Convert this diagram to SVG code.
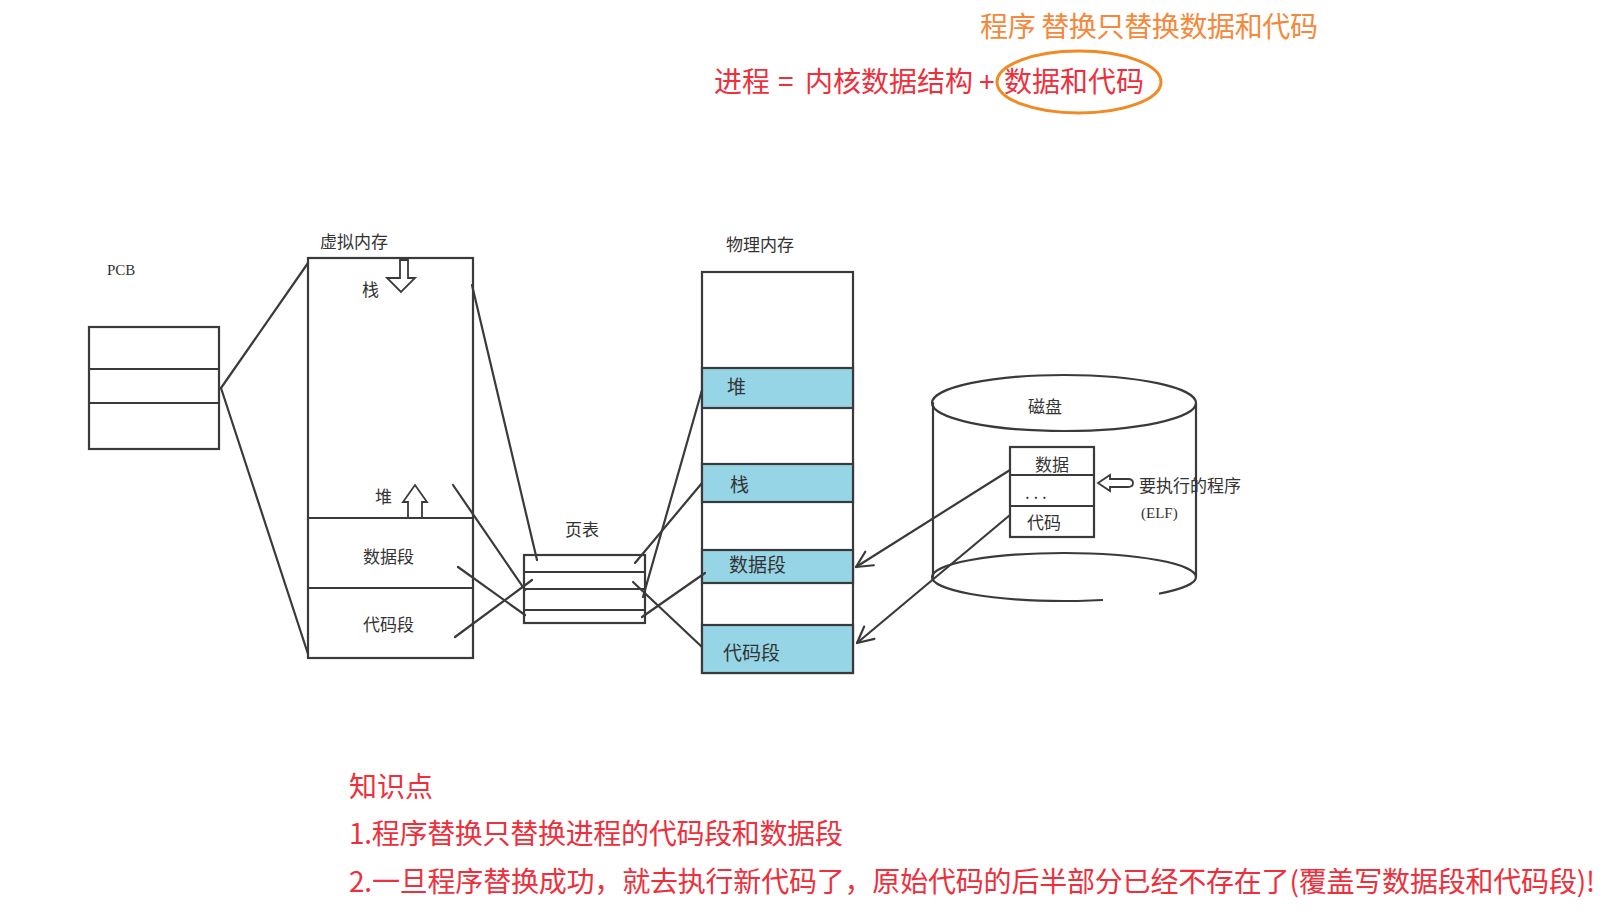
<svg xmlns="http://www.w3.org/2000/svg" width="1608" height="918" viewBox="0 0 1608 918">
<defs>
<style>
.ln{stroke:#3a3a3a;stroke-width:2.2;fill:none;stroke-linecap:round;stroke-linejoin:round}
.thin{stroke:#3a3a3a;stroke-width:1.8;fill:none}
.box{fill:#fff;stroke:#3a3a3a;stroke-width:2.2}
.band{fill:#95d5e6;stroke:#3a3a3a;stroke-width:2.2}
.lbl{font-family:"Noto Sans CJK SC","Noto Sans",sans-serif;font-size:17px;fill:#333}
.big{font-family:"Noto Sans CJK SC","Noto Sans",sans-serif;font-size:19px;fill:#333}
.red{font-family:"Noto Sans CJK SC","Noto Sans",sans-serif;font-size:28px;fill:#ee2f3c}
.org{font-family:"Noto Sans CJK SC","Noto Sans",sans-serif;font-size:28px;fill:#f5883a}
</style>
<marker id="open" viewBox="0 0 20 20" refX="18" refY="10" markerWidth="20" markerHeight="20" markerUnits="userSpaceOnUse" orient="auto">
<path d="M2,2 L18,10 L2,18" fill="none" stroke="#3a3a3a" stroke-width="2.2" stroke-linecap="round" stroke-linejoin="round"/>
</marker>
</defs>
<rect width="1608" height="918" fill="#fff"/>

<g id="title">
<text class="org" x="980" y="37" textLength="338" lengthAdjust="spacing">程序 替换只替换数据和代码</text>
<text class="red" y="92"><tspan x="714">进程</tspan><tspan x="778">=</tspan><tspan x="805">内核数据结构</tspan><tspan x="979">+</tspan><tspan x="1004">数据和代码</tspan></text>
<ellipse cx="1079" cy="82" rx="82" ry="31" fill="none" stroke="#f08a24" stroke-width="3"/>
</g>

<g id="pcb">
<text x="107" y="275" font-family="Liberation Serif, serif" font-size="15" fill="#333">PCB</text>
<rect class="box" x="89" y="327" width="130" height="122"/>
<line class="thin" x1="89" y1="369" x2="219" y2="369"/>
<line class="thin" x1="89" y1="403" x2="219" y2="403"/>
</g>

<g id="virtual-memory">
<text class="lbl" x="320" y="248">虚拟内存</text>
<rect class="box" x="308" y="258" width="165" height="400"/>
<line class="thin" x1="308" y1="518" x2="473" y2="518"/>
<line class="thin" x1="308" y1="588" x2="473" y2="588"/>
<text class="lbl" x="362" y="296">栈</text>
<path class="thin" d="M400,260 L408,260 L408,278 L415,278 L401,292 L387,278 L400,278 Z"/>
<text class="lbl" x="375" y="503">堆</text>
<path class="thin" d="M408,517 L408,502 L403,502 L415,485 L427,502 L422,502 L422,517"/>
<text class="lbl" x="363" y="563">数据段</text>
<text class="lbl" x="363" y="631">代码段</text>
</g>

<g id="page-table">
<text class="lbl" x="565" y="536">页表</text>
<rect class="box" x="524" y="555" width="121" height="68"/>
<line class="thin" x1="524" y1="572" x2="645" y2="572"/>
<line class="thin" x1="524" y1="589" x2="645" y2="589"/>
<line class="thin" x1="524" y1="610" x2="645" y2="610"/>
</g>

<g id="physical-memory">
<text class="lbl" x="726" y="251">物理内存</text>
<rect class="box" x="702" y="272" width="151" height="401"/>
<rect class="band" x="702" y="368" width="151" height="40"/>
<rect class="band" x="702" y="464" width="151" height="38"/>
<rect class="band" x="702" y="550" width="151" height="33"/>
<rect class="band" x="702" y="625" width="151" height="48"/>
<text class="big" x="727" y="394">堆</text>
<text class="big" x="730" y="492">栈</text>
<text class="big" x="729" y="572">数据段</text>
<text class="big" x="723" y="660">代码段</text>
</g>

<g id="disk">
<path class="ln" d="M933,403 L933,577"/>
<path class="ln" d="M1196,403 L1196,577"/>
<ellipse class="ln" cx="1064" cy="403" rx="132" ry="28" fill="#fff"/>
<ellipse class="ln" cx="1064" cy="577" rx="132" ry="24"/>
<rect x="1103" y="590" width="56" height="16" fill="#fff"/>
<text class="lbl" x="1028" y="413">磁盘</text>
<rect class="box" x="1010" y="447" width="84" height="90"/>
<line class="thin" x1="1010" y1="475" x2="1094" y2="475"/>
<line class="thin" x1="1010" y1="506" x2="1094" y2="506"/>
<text class="lbl" x="1035" y="471">数据</text>
<text class="lbl" x="1025" y="499">. . .</text>
<text class="lbl" x="1027" y="529">代码</text>
<path class="thin" d="M1098,483 L1110,475 L1110,479 L1128,479 Q1133,479 1133,483 Q1133,487 1128,487 L1110,487 L1110,491 Z"/>
<text class="lbl" x="1139" y="492">要执行的程序</text>
<text x="1141" y="518" font-family="Liberation Serif, serif" font-size="15" fill="#333">(ELF)</text>
</g>

<g id="connectors">
<line class="ln" x1="221" y1="388" x2="308" y2="263"/>
<line class="ln" x1="221" y1="388" x2="308" y2="654"/>
<line class="ln" x1="472" y1="285" x2="537" y2="560"/>
<line class="ln" x1="453" y1="485" x2="525" y2="590"/>
<line class="ln" x1="458" y1="567" x2="525" y2="615"/>
<line class="ln" x1="455" y1="637" x2="532" y2="580"/>
<line class="ln" x1="643" y1="597" x2="702" y2="390"/>
<line class="ln" x1="635" y1="563" x2="702" y2="483"/>
<line class="ln" x1="633" y1="582" x2="702" y2="647"/>
<line class="ln" x1="642" y1="617" x2="705" y2="573"/>
<line class="ln" x1="1010" y1="470" x2="856" y2="567" marker-end="url(#open)"/>
<line class="ln" x1="1010" y1="515" x2="857" y2="643" marker-end="url(#open)"/>
</g>

<g id="notes">
<text class="red" x="349" y="797">知识点</text>
<text class="red" x="349" y="844" textLength="494" lengthAdjust="spacing">1.程序替换只替换进程的代码段和数据段</text>
<text class="red" x="349" y="892" textLength="1246" lengthAdjust="spacing">2.一旦程序替换成功，就去执行新代码了，原始代码的后半部分已经不存在了(覆盖写数据段和代码段)!</text>
</g>
</svg>
